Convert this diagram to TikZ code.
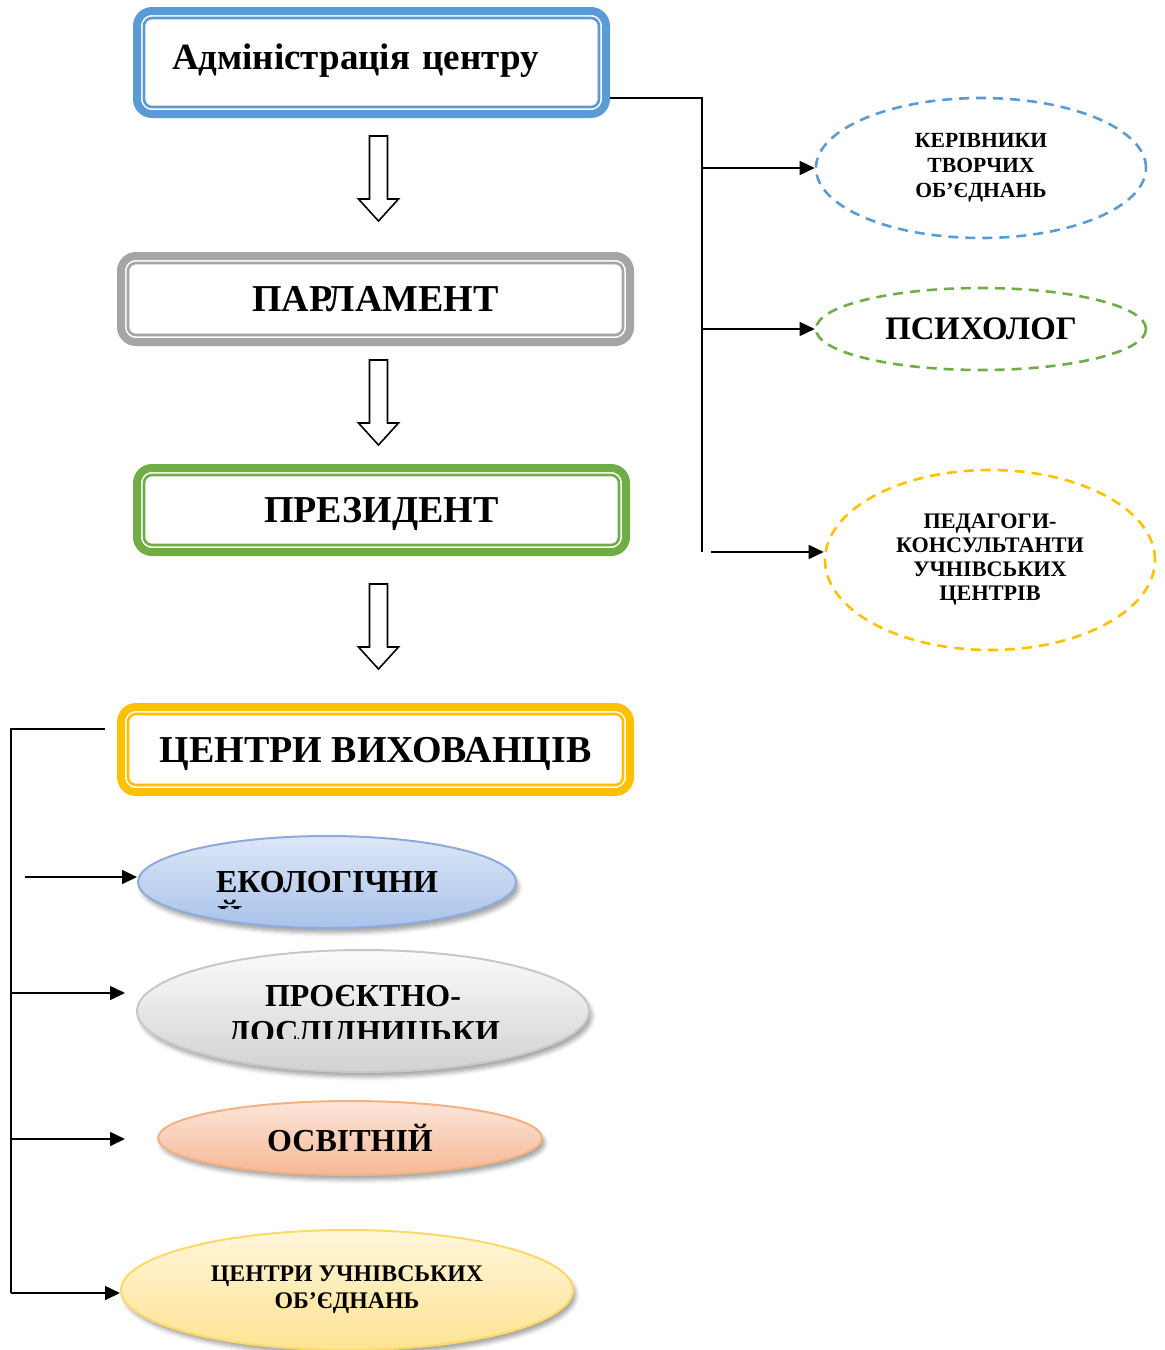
\documentclass[tikz,border=0pt]{standalone}
\usepackage{fontspec}
\setmainfont{Liberation Serif}
\usetikzlibrary{arrows.meta,shapes.geometric,shadows.blur}

\definecolor{frameblue}{HTML}{5B9BD5}
\definecolor{framegray}{HTML}{A5A5A5}
\definecolor{framegreen}{HTML}{70AD47}
\definecolor{framegold}{HTML}{FFC000}
\definecolor{blueedge}{HTML}{8EAADB}
\definecolor{bluetop}{HTML}{DDE7F6}
\definecolor{bluebot}{HTML}{A9C2EA}
\definecolor{grayedge}{HTML}{C8C8C8}
\definecolor{graytop}{HTML}{FBFBFB}
\definecolor{graybot}{HTML}{D2D2D2}
\definecolor{orangeedge}{HTML}{F4B183}
\definecolor{orangetop}{HTML}{FCE6DA}
\definecolor{orangebot}{HTML}{F5B896}
\definecolor{yellowedge}{HTML}{FFD966}
\definecolor{yellowtop}{HTML}{FFF6DB}
\definecolor{yellowbot}{HTML}{FFE393}

\begin{document}
\begin{tikzpicture}[x=0.5pt,y=-0.5pt,
  conn/.style={line width=0.8pt, draw=black},
  >={Triangle[length=7.5pt,width=7pt]},
  framebox/.style={rectangle, draw=#1, line width=4pt, rounded corners=7.5pt,
    fill=white, inner sep=0pt, text depth=0pt, font=\fontsize{19}{22}\selectfont\bfseries},
  innerframe/.style={draw=#1, line width=1.3pt, rounded corners=4pt},
  dashell/.style={ellipse, draw=#1, line width=1.3pt, dash pattern=on 5pt off 3.5pt,
    inner sep=0pt, align=center, font=\fontsize{10.8}{12.4}\selectfont\bfseries},
  softell/.style={ellipse, inner sep=0pt, align=center, line width=1pt,
    blur shadow={shadow xshift=1.5pt, shadow yshift=-2.5pt, shadow blur radius=2pt, shadow opacity=35}},
  caps/.style={inner sep=0pt, font=\fontsize{#1}{#1}\selectfont\bfseries},
  hollowdown/.pic={\draw[line width=0.8pt, fill=white]
    (-9,0) -- (9,0) -- (9,63) -- (20,63) -- (0,85) -- (-20,63) -- (-9,63) -- cycle;}
]
\useasboundingbox (0,0) rectangle (1165,1350);

% --- main column of framed boxes
\node[framebox=frameblue, minimum width=234.5pt, minimum height=51.5pt,
      text width=199.5pt, align=left, inner xsep=17.5pt, text depth=6pt,
      font=\fontsize{18.5}{22}\selectfont\bfseries] (adm) at (371.5,62.5) {Адміністрація центру};
\node[framebox=framegray, minimum width=254.5pt, minimum height=43pt] (parl) at (375.5,299) {ПАРЛАМЕНТ};
\node[framebox=framegreen, minimum width=244.5pt, minimum height=42pt] (pres) at (381.5,510) {ПРЕЗИДЕНТ};
\node[framebox=framegold, minimum width=254.5pt, minimum height=42.5pt] (centry) at (375.5,749.5) {ЦЕНТРИ ВИХОВАНЦІВ};

\foreach \n/\c in {adm/frameblue, parl/framegray, pres/framegreen, centry/framegold}
  \draw[innerframe=\c] ([shift={(11,11)}]\n.north west) rectangle ([shift={(-11,-11)}]\n.south east);

% --- hollow arrows between the boxes
\pic at (378.5,136) {hollowdown};
\pic at (378.5,360) {hollowdown};
\pic at (378.5,584) {hollowdown};

% --- advisory units on the right
\node[dashell=frameblue, minimum width=165pt, minimum height=70pt] (kerivn) at (981,168)
  {КЕРІВНИКИ\\ТВОРЧИХ\\ОБ’ЄДНАНЬ};
\node[dashell=framegreen, minimum width=165pt, minimum height=41pt,
      font=\fontsize{16.4}{19}\selectfont\bfseries] (psych) at (981,329) {ПСИХОЛОГ};
\node[dashell=framegold, minimum width=165pt, minimum height=90pt,
      font=\fontsize{11.1}{12}\selectfont\bfseries] (pedag) at (990,560)
  {ПЕДАГОГИ-\\КОНСУЛЬТАНТИ\\УЧНІВСЬКИХ\\ЦЕНТРІВ};

\coordinate (rtop) at (702,98);
\coordinate (rbot) at (702,552);
\coordinate (rlast) at (711,552);
\draw[conn] (adm.east |- rtop) -- (rtop) -- (rbot);
\draw[conn,->] (rtop |- kerivn.west) -- (kerivn.west);
\draw[conn,->] (rtop |- psych.west) -- (psych.west);
\draw[conn,->] (rlast) -- (pedag.west |- rlast);

% --- pupils' centres
\node[softell, draw=blueedge, top color=bluetop, bottom color=bluebot,
      minimum width=189pt, minimum height=46pt,
      font=\fontsize{16}{19}\selectfont\bfseries] (ekol) at (327,882) {ЕКОЛОГІЧНИ};
\begin{scope}
  \clip (200,895) rectangle (260,908);
  \node[caps=16, anchor=base west] (ekol2) at (217,927) {Й};
\end{scope}

\node[softell, draw=grayedge, top color=graytop, bottom color=graybot,
      minimum width=226pt, minimum height=61pt] (proekt) at (363,1011) {};
\node[caps=16, anchor=base] (proekt1) at (363,1006) {ПРОЄКТНО-};
\begin{scope}
  \clip (200,1012) rectangle (530,1038);
  \node[caps=16, anchor=base] (proekt2) at (364,1042) {ДОСЛІДНИЦЬКИ};
\end{scope}

\node[softell, draw=orangeedge, top color=orangetop, bottom color=orangebot,
      minimum width=192pt, minimum height=37pt,
      font=\fontsize{16}{19}\selectfont\bfseries] (osvit) at (350,1138) {ОСВІТНІЙ};

\node[softell, draw=yellowedge, top color=yellowtop, bottom color=yellowbot,
      minimum width=226pt, minimum height=60pt,
      font=\fontsize{11.9}{13.6}\selectfont\bfseries] (uchn) at (347,1290)
  {ЦЕНТРИ УЧНІВСЬКИХ\\ОБ’ЄДНАНЬ};

\coordinate (ltop) at (105,729);
\coordinate (lcorner) at (11,729);
\coordinate (lbot) at (11,1293);
\coordinate (ekolstart) at (25,877);
\coordinate (proektend) at (125,993);
\coordinate (osvitend) at (125,1139);
\draw[conn] (ltop) -- (lcorner) -- (lbot);
\draw[conn,->] (ekolstart) -- (ekol.west |- ekolstart);
\draw[conn,->] (lcorner |- proektend) -- (proektend);
\draw[conn,->] (lcorner |- osvitend) -- (osvitend);
\draw[conn,->] (lbot) -- (uchn.west |- lbot);
\end{tikzpicture}
\end{document}
